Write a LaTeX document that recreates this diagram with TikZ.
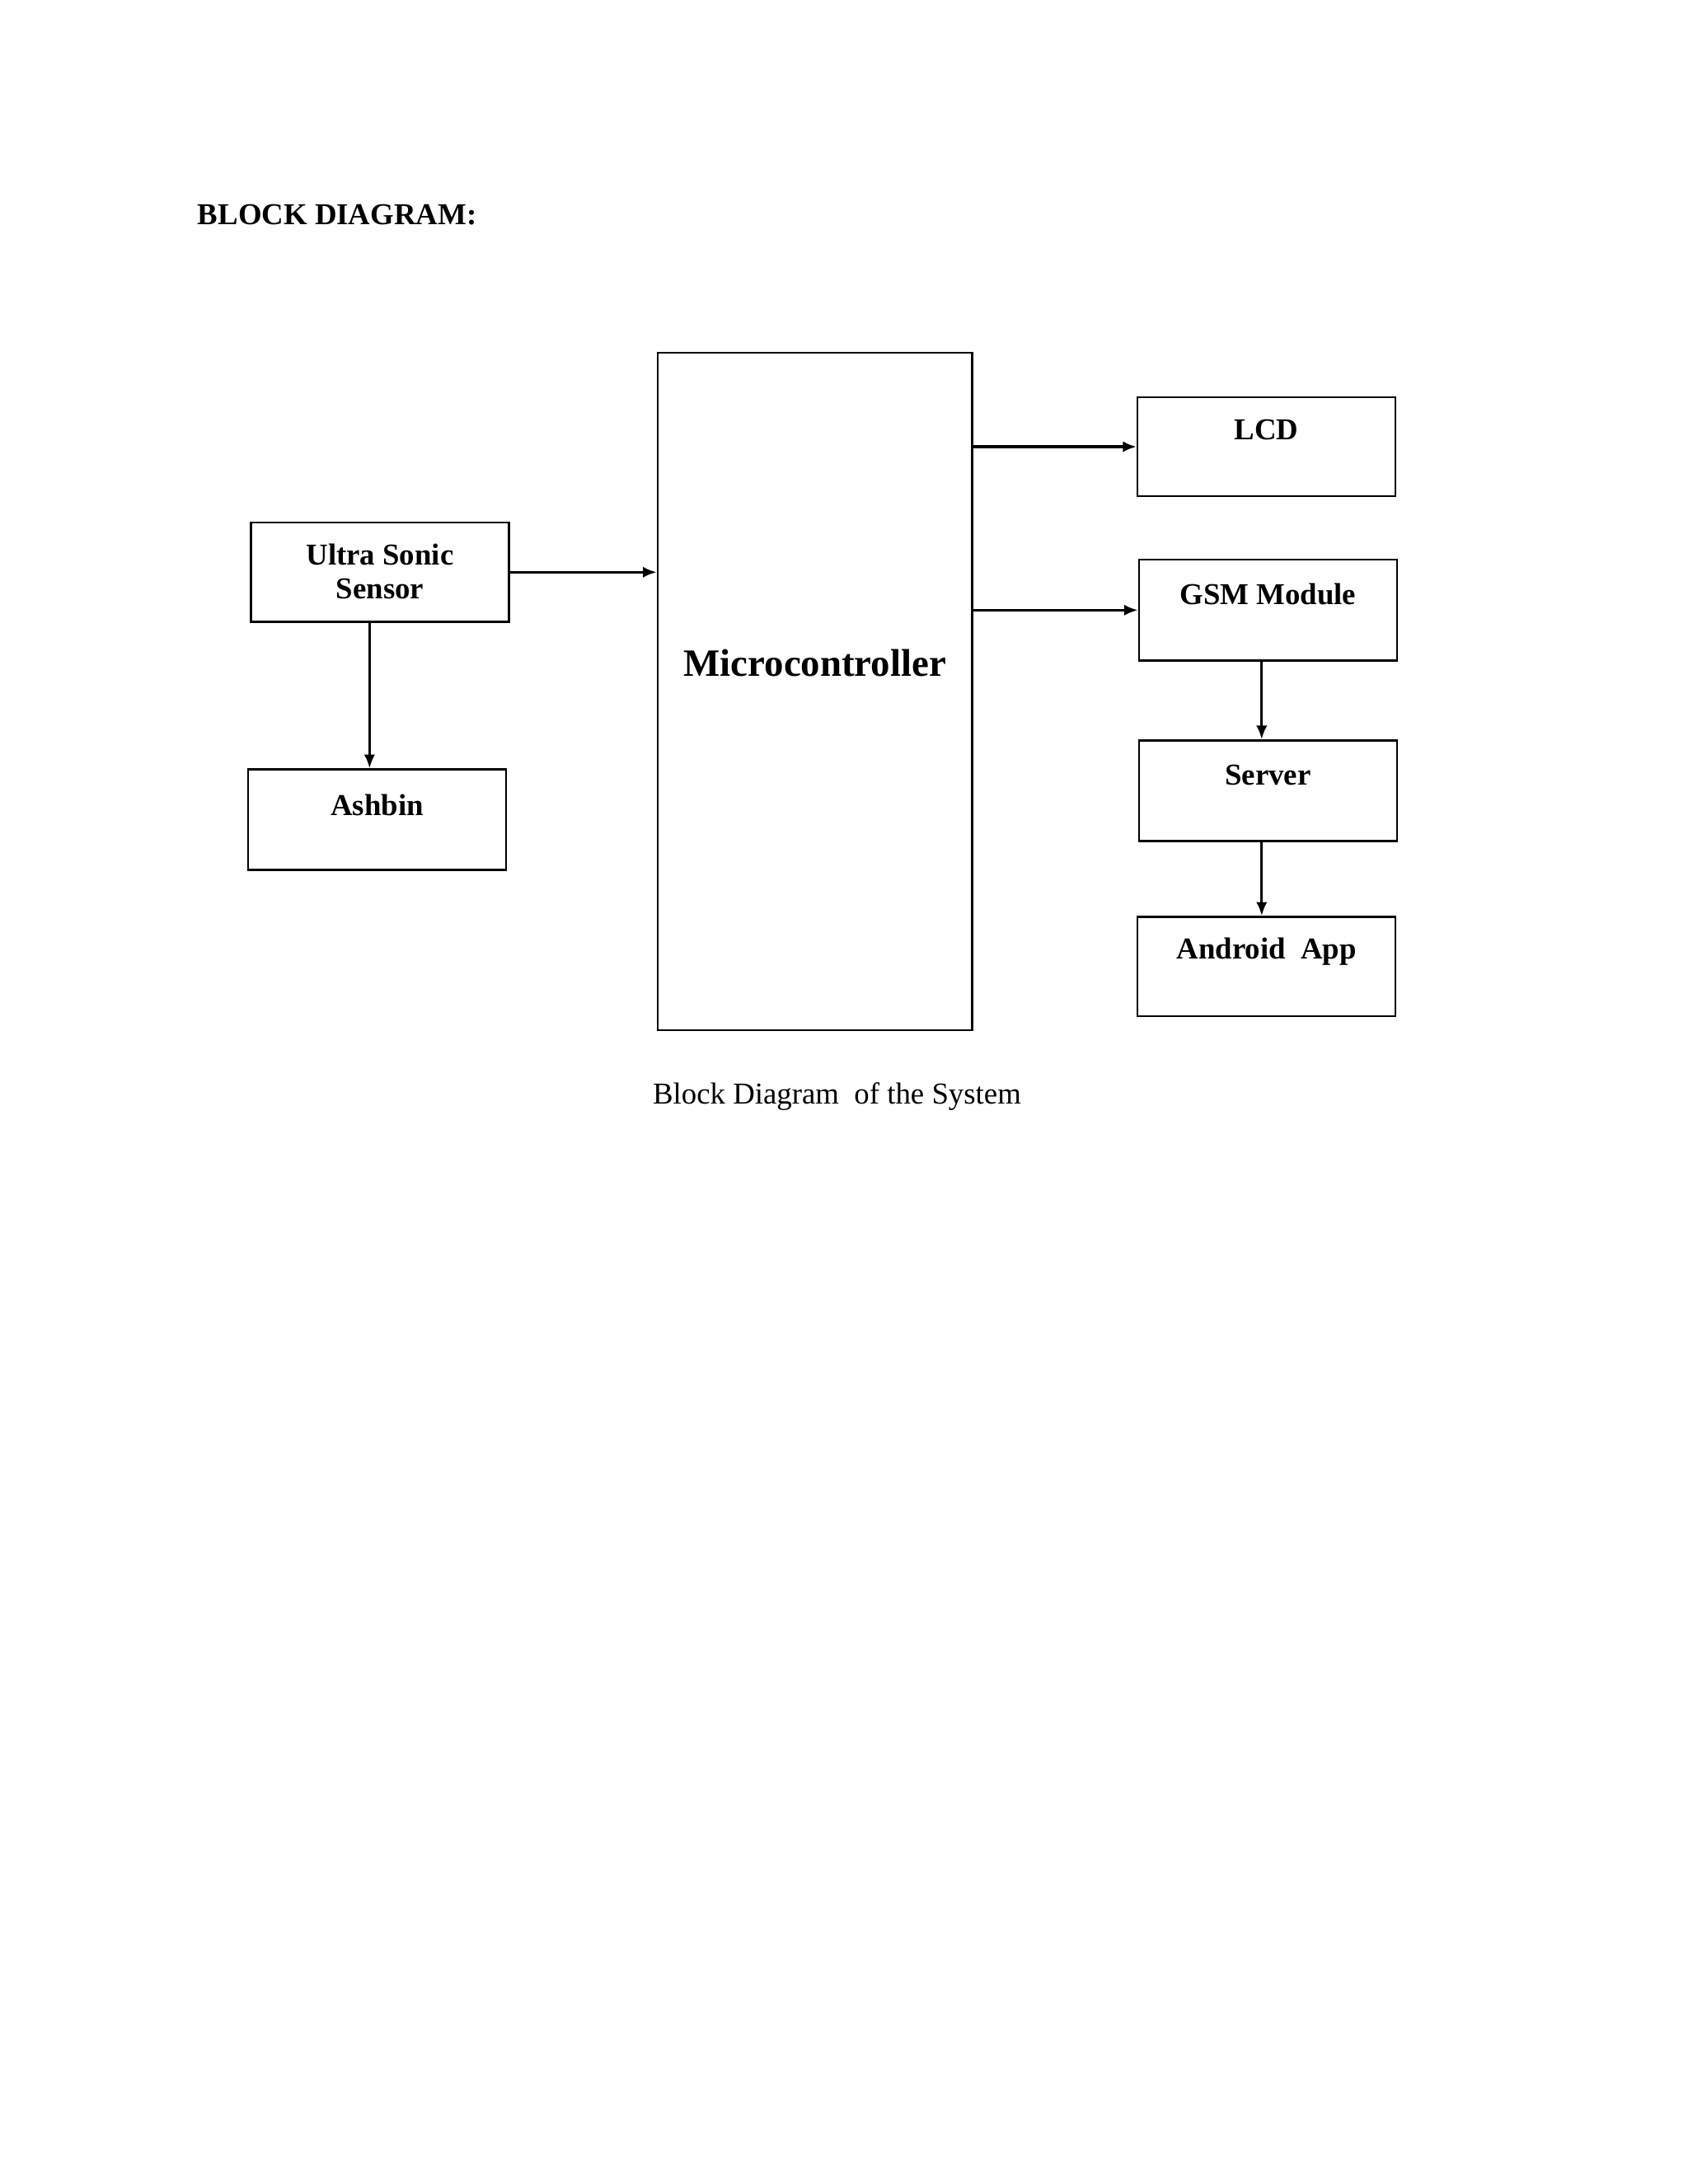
\documentclass[tikz,border=0pt]{standalone}
\usepackage{fontspec}
\setmainfont{Liberation Serif}
\usetikzlibrary{arrows.meta}
\begin{document}
\begin{tikzpicture}[x=0.5pt,y=-0.5pt,
  box/.style={draw,line width=0.7pt,inner sep=0pt},
  lbl/.style={font=\bfseries\fontsize{11}{12.5}\selectfont,align=center,inner sep=0pt},
  arr/.style={line width=1pt,-{Latex[length=5pt,width=4pt]}}]
\useasboundingbox (0,0) rectangle (1224,1584);
\node[anchor=west,font=\bfseries\fontsize{11}{13}\selectfont,inner sep=0pt] (title) at (143,156) {BLOCK DIAGRAM:};
\node[box,minimum width=114pt,minimum height=245.5pt] (mc) at (591,501.5) {};
\node[font=\bfseries\fontsize{14}{16}\selectfont,inner sep=0pt] (mct) at (591,481) {Microcontroller};
\node[box,minimum width=93.5pt,minimum height=36pt] (lcd) at (918.5,324) {};
\node[lbl] (lcdt) at (918.5,312) {LCD};
\node[box,minimum width=93.5pt,minimum height=36.5pt] (gsm) at (919.5,442.5) {};
\node[lbl] (gsmt) at (919.5,431) {GSM Module};
\node[box,minimum width=93.5pt,minimum height=36.5pt] (srv) at (919.5,573.5) {};
\node[lbl] (srvt) at (919.5,562) {Server};
\node[box,minimum width=93.5pt,minimum height=36pt] (and) at (918.5,701) {};
\node[lbl] (andt) at (918.5,690) {Android\ \ App};
\node[box,minimum width=93.5pt,minimum height=36pt] (us) at (275.5,415) {};
\node[lbl] (ust) at (275.5,414.5) {Ultra Sonic\\Sensor};
\node[box,minimum width=93.5pt,minimum height=36.5pt] (ash) at (273.5,594.5) {};
\node[lbl] (asht) at (273.5,584) {Ashbin};
\node[font=\fontsize{11}{13}\selectfont,inner sep=0pt] (cap) at (607,795) {Block Diagram\ \ of the System};
\draw[arr] (us.east) -- (mc.west|-us.east);
\draw[arr] (mc.east|-lcd.west) -- (lcd.west) ;
\draw[arr] (mc.east|-gsm.west) -- (gsm.west);
\draw[arr] (us.south-|268,0) -- (ash.north-|268,0);
\draw[arr] (gsm.south-|915,0) -- (srv.north-|915,0);
\draw[arr] (srv.south-|915,0) -- (and.north-|915,0);
\end{tikzpicture}
\end{document}
